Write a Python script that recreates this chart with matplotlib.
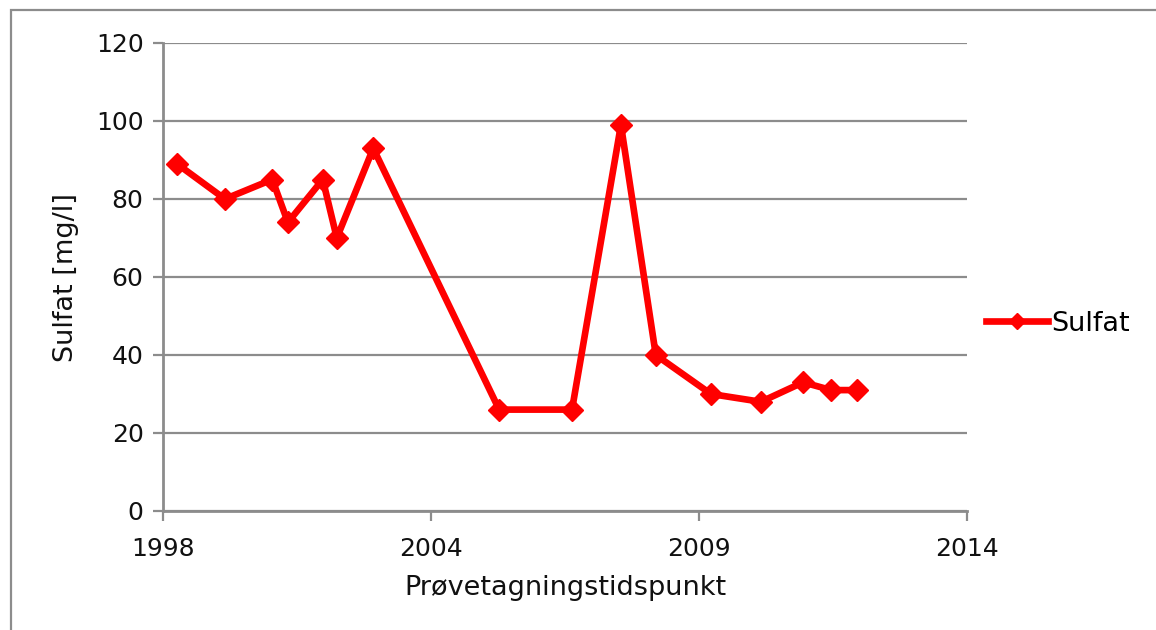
import matplotlib
matplotlib.use("Agg")
import matplotlib.pyplot as plt
from matplotlib.patches import Rectangle

# Sampling times (decimal years) and sulfate concentrations
sample_time = [1999.17, 2000.09, 2001.00, 2001.30, 2001.97, 2002.24, 2002.94,
               2005.36, 2006.76, 2007.70, 2008.37, 2009.43, 2010.39, 2011.20,
               2011.74, 2012.24]
sulfat = [89, 80, 85, 74, 85, 70, 93, 26, 26, 99, 40, 30, 28, 33, 31, 31]

# Date-axis ticks and their labels
x_ticks = [1998.9, 2004.05, 2009.2, 2014.35]
x_tick_labels = ["1998", "2004", "2009", "2014"]
y_ticks = [0, 20, 40, 60, 80, 100, 120]

W, H = 1156, 630
fig = plt.figure(figsize=(W / 100, H / 100), dpi=100)
fig.patch.set_facecolor("white")
plt.rcParams["font.family"] = ["DejaVu Sans"]

grey = "#8c8c8c"
txt = "#111111"
fs = 18
fs_lab = 19.5

# Chart-area frame
fig.patches.append(Rectangle((11 / W, -0.05), 1.2, (H - 10) / H + 0.05,
                             transform=fig.transFigure, fill=False,
                             edgecolor=grey, linewidth=1.6, zorder=0))

ax = fig.add_axes([163 / W, (H - 511) / H, (967 - 163) / W, (511 - 43) / H])
ax.set_xlim(x_ticks[0], x_ticks[-1])
ax.set_ylim(0, 120)

ax.plot(sample_time, sulfat, color="#ff0000", linewidth=4.8, marker="D",
        markersize=11, label="Sulfat", solid_joinstyle="round", zorder=3,
        clip_on=False)

ax.set_yticks(y_ticks)
ax.set_xticks(x_ticks)
ax.set_xticklabels(x_tick_labels)
ax.grid(axis="y", color=grey, linewidth=1.6)
ax.set_axisbelow(True)

for side in ("top", "right"):
    ax.spines[side].set_visible(False)
for side in ("left", "bottom"):
    ax.spines[side].set_color(grey)
    ax.spines[side].set_linewidth(2)

ax.tick_params(axis="both", direction="out", length=7, width=1.6,
               color=grey, labelsize=fs, labelcolor=txt)
ax.tick_params(axis="y", pad=7)
ax.tick_params(axis="x", pad=12)

ax.set_xlabel("Prøvetagningstidspunkt", fontsize=fs_lab, color=txt,
              labelpad=10)
ax.set_ylabel("Sulfat [mg/l]", fontsize=fs_lab, color=txt, labelpad=12)

ax.legend(loc="center left", bbox_to_anchor=(1.0, 0.40), frameon=False,
          fontsize=fs_lab, handlelength=2.3, handletextpad=0.1,
          markerscale=0.75, borderaxespad=0.3)

fig.savefig("out.png", dpi=100, facecolor="white")
